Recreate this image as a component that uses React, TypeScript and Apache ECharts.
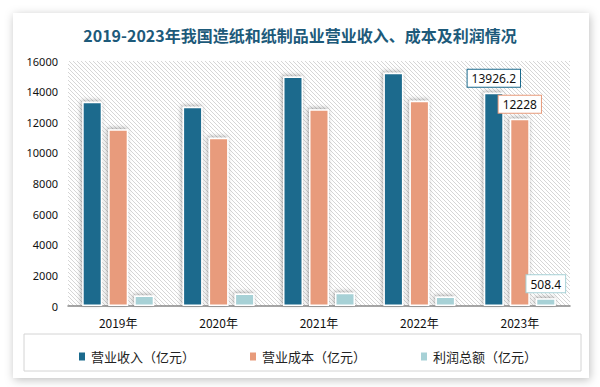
import React, { useEffect, useRef } from "react";
import * as echarts from "echarts";

const categories = ["2019年", "2020年", "2021年", "2022年", "2023年"];
const revenue = [13340, 13020, 14980, 15240, 13926.2];
const cost = [11540, 10990, 12850, 13410, 12228];
const profit = [680, 810, 870, 620, 508.4];
const yTicks = { min: 0, max: 16000, interval: 2000 };

const stripeSvg =
  "data:image/svg+xml;utf8," +
  encodeURIComponent(
    '<svg xmlns="http://www.w3.org/2000/svg" width="4" height="4"><rect width="4" height="4" fill="#ffffff"/><path d="M-1,-1 L5,5 M-1,3 L1,5 M3,-1 L5,1" stroke="#d6d6d6" stroke-width="1"/></svg>'
  );

export default function App() {
  const ref = useRef<HTMLDivElement>(null);
  useEffect(() => {
    if (!ref.current) return;
    const chart = echarts.init(ref.current, null, { renderer: "svg" });
    const barStyle = (color: string) => ({
      color,
      borderColor: "#ffffff",
      borderWidth: 1.5,
      shadowColor: "rgba(0,0,0,0.35)",
      shadowBlur: 4,
      shadowOffsetX: -1,
      shadowOffsetY: -1,
    });
    const lastLabel = (border: string) => ({
      show: true,
      position: "top",
      distance: 6,
      backgroundColor: "#ffffff",
      borderColor: border,
      borderWidth: 1,
      padding: [3, 4, 2, 4],
      color: "#111",
      fontSize: 12,
      fontFamily: "Noto Sans",
      formatter: (p: any) => String(p.value),
    });
    const mk = (name: string, data: number[], color: string) => ({
      name,
      type: "bar",
      data: data.map((v, i) => ({
        value: v,
        label: i === data.length - 1 ? lastLabel(color) : { show: false },
      })),
      barWidth: 20,
      barGap: "30%",
      itemStyle: barStyle(color),
    });
    chart.setOption({
      animation: false,
      backgroundColor: "#ffffff",
      title: {
        text: "2019-2023年我国造纸和纸制品业营业收入、成本及利润情况",
        left: "center",
        top: 22,
        textStyle: {
          color: "#1d5a7a",
          fontSize: 16,
          fontWeight: "bold",
          fontFamily: "Noto Sans CJK SC",
        },
      },
      graphic: [
        {
          type: "rect",
          z: -10,
          shape: { x: 13, y: 13, width: 576, height: 365 },
          style: {
            fill: "#ffffff",
            shadowColor: "rgba(0,0,0,0.25)",
            shadowBlur: 10,
            shadowOffsetX: 1,
            shadowOffsetY: 2,
          },
        },
        {
          type: "rect",
          z: -5,
          shape: { x: 24, y: 334, width: 557, height: 37 },
          style: { fill: "#ffffff", stroke: "#d4d4d4", lineWidth: 1 },
        },
      ],
      legend: {
        left: 72,
        top: 345,
        itemWidth: 8,
        itemHeight: 10,
        itemGap: 53,
        icon: "rect",
        textStyle: { fontSize: 13, color: "#222", fontFamily: "Noto Sans CJK SC" },
        data: ["营业收入（亿元）", "营业成本（亿元）", "利润总额（亿元）"],
      },
      grid: {
        left: 68,
        right: 30,
        top: 61,
        bottom: 81,
        show: true,
        borderWidth: 0,
        backgroundColor: {
          image: stripeSvg,
          repeat: "repeat",
          imageWidth: 4,
          imageHeight: 4,
        } as any,
      },
      xAxis: {
        type: "category",
        data: categories,
        axisLine: { lineStyle: { color: "#888", width: 1.5 } },
        axisTick: { show: false },
        axisLabel: { color: "#111", fontSize: 12, margin: 10, fontFamily: "Noto Sans CJK SC" },
      },
      yAxis: {
        type: "value",
        min: yTicks.min,
        max: yTicks.max,
        interval: yTicks.interval,
        splitLine: { show: false },
        axisLine: { show: false },
        axisTick: { show: false },
        axisLabel: {
          color: "#111",
          fontSize: 11,
          margin: 10,
          fontFamily: "Noto Sans",
          formatter: (v: number) => String(v),
        },
      },
      series: [
        mk("营业收入（亿元）", revenue, "#1b6a8d"),
        mk("营业成本（亿元）", cost, "#e89b7b"),
        mk("利润总额（亿元）", profit, "#a7d1d6"),
      ],
    });
    return () => chart.dispose();
  }, []);
  return (
    <div
      ref={ref}
      style={{ position: "fixed", left: 0, top: 0, width: 600, height: 387 }}
    />
  );
}
